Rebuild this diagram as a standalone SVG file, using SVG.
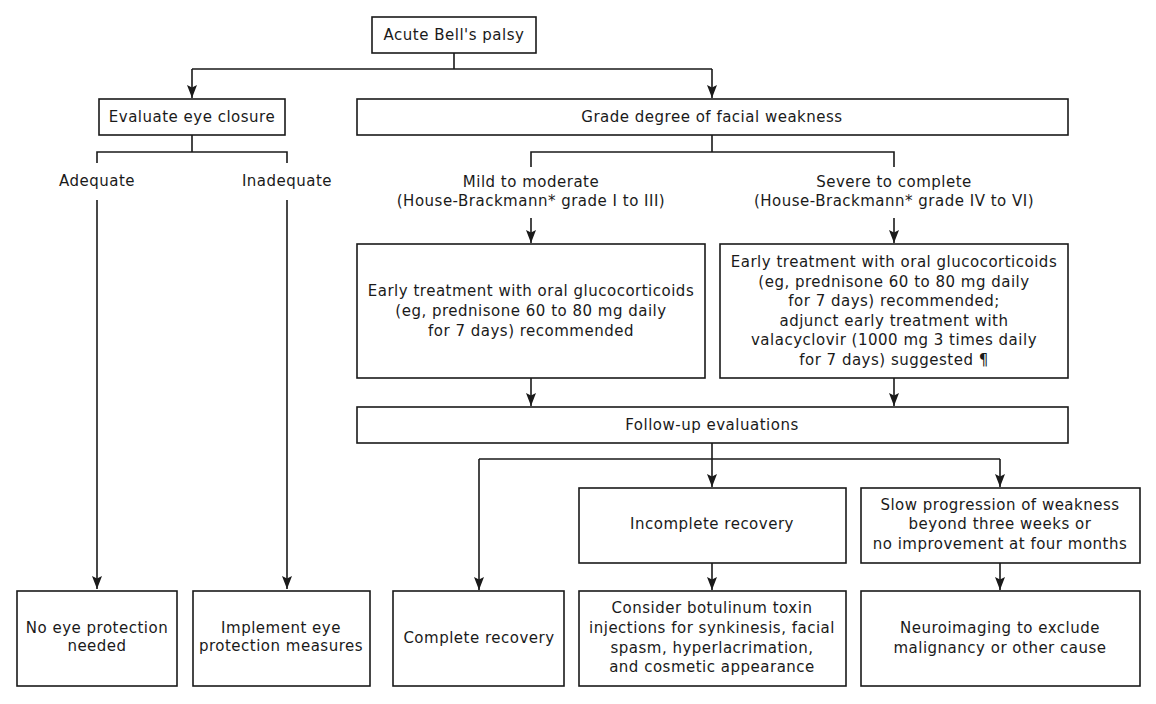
<svg xmlns="http://www.w3.org/2000/svg" width="1156" height="704" viewBox="0 0 1156 704">
<defs>
<style>
.box{fill:#fff;stroke:#1a1a1a;stroke-width:1.6}
.ln{fill:none;stroke:#1a1a1a;stroke-width:1.6}
text{font-family:"DejaVu Sans",Verdana,sans-serif;font-size:15px;letter-spacing:0.5px;fill:#1a1a1a;text-anchor:middle}
</style>
<marker id="ah" markerUnits="userSpaceOnUse" markerWidth="14" markerHeight="12" refX="13" refY="5" orient="auto" viewBox="0 0 14 10">
<path d="M0,0 L13,5 L0,10 L2.5,5 Z" fill="#1a1a1a"/>
</marker>
</defs>
<rect width="1156" height="704" fill="#fff"/>
<g id="connectors">
<path class="ln" d="M454,53 V69 M192,69 H712"/>
<path class="ln" d="M192,69 V98" marker-end="url(#ah)"/>
<path class="ln" d="M712,69 V98" marker-end="url(#ah)"/>
<path class="ln" d="M192,135 V152 M97,163 V152 H287 V163"/>
<path class="ln" d="M97,200 V589" marker-end="url(#ah)"/>
<path class="ln" d="M287,200 V589" marker-end="url(#ah)"/>
<path class="ln" d="M712,135 V152 M531,167 V152 H894 V167"/>
<path class="ln" d="M531,218 V243" marker-end="url(#ah)"/>
<path class="ln" d="M894,218 V243" marker-end="url(#ah)"/>
<path class="ln" d="M531,378 V406" marker-end="url(#ah)"/>
<path class="ln" d="M894,378 V406" marker-end="url(#ah)"/>
<path class="ln" d="M712,443 V459 M479,459 H1000"/>
<path class="ln" d="M479,459 V590" marker-end="url(#ah)"/>
<path class="ln" d="M712,459 V487" marker-end="url(#ah)"/>
<path class="ln" d="M1000,459 V487" marker-end="url(#ah)"/>
<path class="ln" d="M712,563 V590" marker-end="url(#ah)"/>
<path class="ln" d="M1000,563 V590" marker-end="url(#ah)"/>
</g>
<g id="n-acute"><rect class="box" x="372" y="17" width="164" height="36"/><text x="454" y="40">Acute Bell's palsy</text></g>
<g id="n-eye"><rect class="box" x="99" y="99" width="186" height="36"/><text x="192" y="122">Evaluate eye closure</text></g>
<g id="n-grade"><rect class="box" x="357" y="99" width="711" height="36"/><text x="712" y="122">Grade degree of facial weakness</text></g>
<g id="l-adequate"><text x="97" y="186">Adequate</text></g>
<g id="l-inadequate"><text x="287" y="186">Inadequate</text></g>
<g id="l-mild"><text x="531" y="187">Mild to moderate</text><text x="531" y="206">(House-Brackmann* grade I to III)</text></g>
<g id="l-severe"><text x="894" y="187">Severe to complete</text><text x="894" y="206">(House-Brackmann* grade IV to VI)</text></g>
<g id="n-mildtx"><rect class="box" x="357" y="244" width="348" height="134"/>
<text x="531" y="296">Early treatment with oral glucocorticoids</text>
<text x="531" y="316">(eg, prednisone 60 to 80 mg daily</text>
<text x="531" y="336">for 7 days) recommended</text></g>
<g id="n-severetx"><rect class="box" x="720" y="244" width="348" height="134"/>
<text x="894" y="267">Early treatment with oral glucocorticoids</text>
<text x="894" y="287">(eg, prednisone 60 to 80 mg daily</text>
<text x="894" y="306">for 7 days) recommended;</text>
<text x="894" y="326">adjunct early treatment with</text>
<text x="894" y="345">valacyclovir (1000 mg 3 times daily</text>
<text x="894" y="365">for 7 days) suggested ¶</text></g>
<g id="n-followup"><rect class="box" x="357" y="407" width="711" height="36"/><text x="712" y="430">Follow-up evaluations</text></g>
<g id="n-incomplete"><rect class="box" x="579" y="488" width="267" height="75"/><text x="712" y="529">Incomplete recovery</text></g>
<g id="n-slow"><rect class="box" x="861" y="488" width="279" height="75"/>
<text x="1000" y="510">Slow progression of weakness</text>
<text x="1000" y="529">beyond three weeks or</text>
<text x="1000" y="549">no improvement at four months</text></g>
<g id="n-noeye"><rect class="box" x="17" y="591" width="160" height="95"/>
<text x="97" y="633">No eye protection</text><text x="97" y="651">needed</text></g>
<g id="n-implement"><rect class="box" x="193" y="591" width="177" height="95"/>
<text x="281" y="633">Implement eye</text><text x="281" y="651">protection measures</text></g>
<g id="n-complete"><rect class="box" x="393" y="591" width="171" height="95"/><text x="479" y="643">Complete recovery</text></g>
<g id="n-botox"><rect class="box" x="579" y="591" width="267" height="95"/>
<text x="712" y="613">Consider botulinum toxin</text>
<text x="712" y="633">injections for synkinesis, facial</text>
<text x="712" y="653">spasm, hyperlacrimation,</text>
<text x="712" y="672">and cosmetic appearance</text></g>
<g id="n-neuro"><rect class="box" x="861" y="591" width="279" height="95"/>
<text x="1000" y="633">Neuroimaging to exclude</text>
<text x="1000" y="653">malignancy or other cause</text></g>
</svg>
